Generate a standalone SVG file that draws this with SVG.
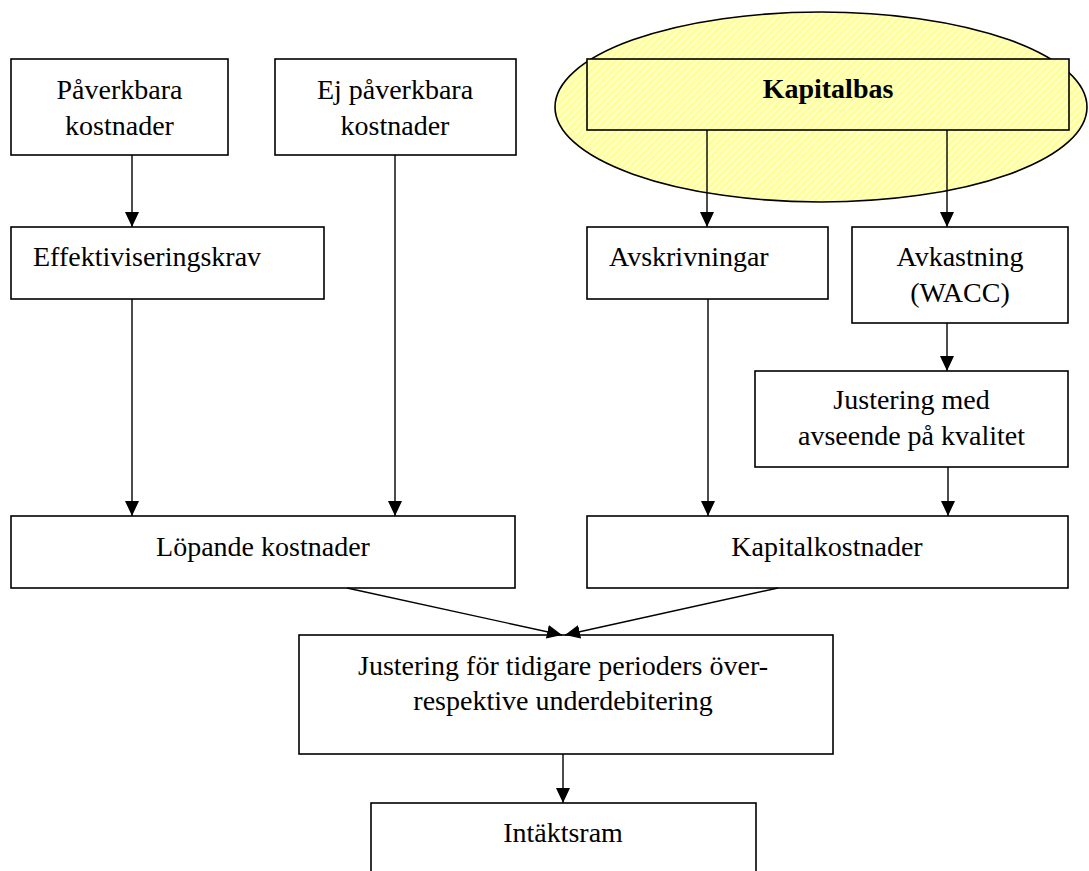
<svg xmlns="http://www.w3.org/2000/svg" width="1089" height="871" viewBox="0 0 1089 871">
<style>
.box{fill:#fff;stroke:#000;stroke-width:1.6}
.hl{fill:url(#hatch);stroke:#000;stroke-width:1.6}
text{font-family:"Liberation Serif","Times New Roman",serif;font-size:28px;fill:#000}
.c{text-anchor:middle}
.b{font-weight:bold}
.con line{stroke:#000;stroke-width:1.4;marker-end:url(#ah)}
</style>
<defs>
<pattern id="hatch" patternUnits="userSpaceOnUse" width="5" height="5" patternTransform="rotate(45)">
<rect width="5" height="5" fill="#ffff99"/>
<rect width="1.8" height="5" fill="#ffffd2"/>
</pattern>
<marker id="ah" markerUnits="userSpaceOnUse" markerWidth="16" markerHeight="16" viewBox="0 0 16 16" refX="15" refY="8" orient="auto">
<path d="M0,1 L15,8 L0,15 Z" fill="#000"/>
</marker>
</defs>
<rect width="1089" height="871" fill="#fff"/>

<g id="kapitalbas">
<ellipse class="hl" cx="821" cy="107" rx="266" ry="95"/>
<rect class="hl" x="587" y="59" width="482" height="71"/>
<text class="c b" x="828" y="98">Kapitalbas</text>
</g>

<g id="paverkbara">
<rect class="box" x="11" y="59" width="217" height="96"/>
<text class="c" x="119.5" y="99">Påverkbara</text>
<text class="c" x="119.5" y="135">kostnader</text>
</g>

<g id="ej-paverkbara">
<rect class="box" x="275" y="59" width="241" height="96"/>
<text class="c" x="395" y="99">Ej påverkbara</text>
<text class="c" x="395" y="135">kostnader</text>
</g>

<g id="effektiviseringskrav">
<rect class="box" x="11" y="227" width="313" height="72"/>
<text x="33" y="266">Effektiviseringskrav</text>
</g>

<g id="avskrivningar">
<rect class="box" x="587" y="227" width="241" height="72"/>
<text x="609" y="266">Avskrivningar</text>
</g>

<g id="avkastning">
<rect class="box" x="852" y="227" width="216" height="96"/>
<text class="c" x="960" y="266">Avkastning</text>
<text class="c" x="960" y="302">(WACC)</text>
</g>

<g id="justering-kvalitet">
<rect class="box" x="755" y="371" width="313" height="96"/>
<text class="c" x="911.5" y="409">Justering med</text>
<text class="c" x="911.5" y="445">avseende på kvalitet</text>
</g>

<g id="lopande">
<rect class="box" x="11" y="516" width="504" height="72"/>
<text class="c" x="263" y="556">Löpande kostnader</text>
</g>

<g id="kapitalkostnader">
<rect class="box" x="587" y="516" width="481" height="72"/>
<text class="c" x="827" y="556">Kapitalkostnader</text>
</g>

<g id="justering-perioder">
<rect class="box" x="299" y="635" width="534" height="119"/>
<text class="c" x="563" y="675">Justering för tidigare perioders över-</text>
<text class="c" x="563" y="710">respektive underdebitering</text>
</g>

<g id="intaktsram">
<rect class="box" x="371" y="803" width="385" height="90"/>
<text class="c" x="563" y="842">Intäktsram</text>
</g>

<g id="connectors" class="con">
<line x1="132" y1="155" x2="132" y2="227"/>
<line x1="132" y1="299" x2="132" y2="516"/>
<line x1="395" y1="155" x2="395" y2="516"/>
<line x1="707" y1="130" x2="707" y2="227"/>
<line x1="947" y1="130" x2="947" y2="227"/>
<line x1="947" y1="323" x2="947" y2="371"/>
<line x1="708" y1="299" x2="708" y2="516"/>
<line x1="948" y1="467" x2="948" y2="516"/>
<line x1="347" y1="588" x2="562" y2="635"/>
<line x1="778" y1="588" x2="565" y2="635"/>
<line x1="563" y1="754" x2="563" y2="803"/>
</g>
</svg>
